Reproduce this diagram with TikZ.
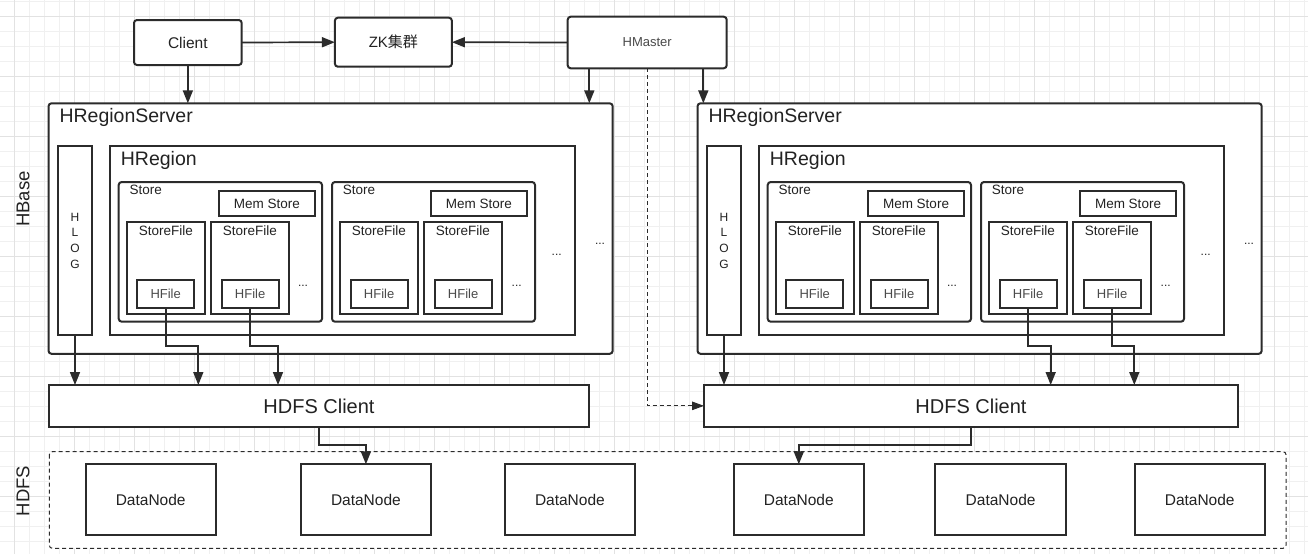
\documentclass[tikz,border=0pt]{standalone}
\usepackage{fontspec}
\setmainfont{Liberation Sans}
\newfontfamily\cjk{Noto Sans CJK SC}
\usepackage{tikz}
\usetikzlibrary{arrows.meta}

\definecolor{linec}{HTML}{2B2B2B}
\definecolor{textc}{HTML}{222222}
\definecolor{softc}{HTML}{4A4A4A}
\definecolor{gridmin}{HTML}{F0F0F0}
\definecolor{gridmaj}{HTML}{E2E2E2}

\begin{document}
\begin{tikzpicture}[x=1pt,y=1pt,yscale=-1,xscale=1,
  box/.style={draw=linec,line width=2pt,fill=white,inner sep=0pt,outer sep=0pt,anchor=north west,text=textc},
  rbox/.style={box,rounded corners=3pt},
  arr/.style={draw=linec,line width=1.7pt,-{Triangle[length=13pt,width=10pt]}},
  dasharr/.style={draw=linec,line width=1pt,dash pattern=on 4pt off 3pt,-{Triangle[length=12pt,width=8.5pt]}},
  txt/.style={inner sep=0pt,text=textc},
  bigtxt/.style={txt,font=\fontsize{19.5}{22}\selectfont},
  midtxt/.style={txt,font=\fontsize{13.5}{16}\selectfont},
  dots/.style={txt,font=\fontsize{12}{12}\selectfont}]
\useasboundingbox (0,0) rectangle (1308,554);
\fill[white] (0,0) rectangle (1308,554);

%Background grid
\foreach \gx in {0,...,86} {\draw[gridmin,line width=1pt] ({14.5+15*\gx},0) -- ({14.5+15*\gx},554);}
\foreach \gy in {0,...,36} {\draw[gridmin,line width=1pt] (0,{1+15*\gy}) -- (1308,{1+15*\gy});}
\foreach \gx in {0,...,21} {\draw[gridmaj,line width=1pt] ({14.5+60*\gx},0) -- ({14.5+60*\gx},554);}
\foreach \gy in {0,...,8} {\draw[gridmaj,line width=1pt] (0,{16+60*\gy}) -- (1308,{16+60*\gy});}

% Text Node
\node[txt,rotate=90,font=\fontsize{18.5}{20}\selectfont] (hbase) at (23,199) {HBase};
% Text Node
\node[txt,rotate=90,font=\fontsize{18.5}{20}\selectfont] (hdfs) at (23,491) {HDFS};

%Shape: Rectangle (top row)
\node[rbox,minimum width=107.7pt,minimum height=45pt,font=\fontsize{15.5}{18}\selectfont] (client) at (134,20) {Client};
\node[rbox,minimum width=117pt,minimum height=49pt,font=\fontsize{15}{18}\selectfont] (zk) at (334.9,17.7) {ZK{\cjk 集群}};
\node[rbox,minimum width=159pt,minimum height=51.6pt,text=softc,font=\fontsize{13}{16}\selectfont] (hmaster) at (567.7,16.7) {HMaster};

%Shape: HRegionServer (left)
\node[rbox,minimum width=564.2pt,minimum height=250.5pt] (rs1) at (48.5,103.3) {};
\node[box,minimum width=34.6pt,minimum height=189pt,align=center,font=\fontsize{12}{15.7}\selectfont] (hlog1) at (57.7,146) {H\\L\\O\\G};
\node[box,minimum width=465.3pt,minimum height=189pt] (hr1) at (110,146) {};
\node[rbox,minimum width=203.3pt,minimum height=139.7pt] (st1a) at (118.7,182) {};
\node[rbox,minimum width=203pt,minimum height=139.7pt] (st1b) at (332,182) {};
\node[box,minimum width=96.6pt,minimum height=25.3pt,font=\fontsize{13.5}{16}\selectfont] (mem1a) at (218.7,190.7) {Mem Store};
\node[box,minimum width=96.6pt,minimum height=25.3pt,font=\fontsize{13.5}{16}\selectfont] (mem1b) at (430.7,190.7) {Mem Store};
\node[box,minimum width=78.4pt,minimum height=92.3pt] (sf1a1) at (126.7,221.7) {};
\node[box,minimum width=78.4pt,minimum height=92.3pt] (sf1a2) at (210.7,221.7) {};
\node[box,minimum width=78.4pt,minimum height=92.3pt] (sf1b1) at (339.7,221.7) {};
\node[box,minimum width=78.4pt,minimum height=92.3pt] (sf1b2) at (423.7,221.7) {};
\node[box,minimum width=56.8pt,minimum height=28.3pt,text=softc,font=\fontsize{13}{16}\selectfont] (hf1a1) at (137.3,280) {HFile};
\node[box,minimum width=56.8pt,minimum height=28.3pt,text=softc,font=\fontsize{13}{16}\selectfont] (hf1a2) at (221.7,280) {HFile};
\node[box,minimum width=56.8pt,minimum height=28.3pt,text=softc,font=\fontsize{13}{16}\selectfont] (hf1b1) at (350.7,280) {HFile};
\node[box,minimum width=56.8pt,minimum height=28.3pt,text=softc,font=\fontsize{13}{16}\selectfont] (hf1b2) at (434.7,280) {HFile};

% Text Node
\node[bigtxt,anchor=base west] at (59.3,122.3) {HRegionServer};
\node[bigtxt,anchor=base west] at (120.7,165) {HRegion};
\node[midtxt,anchor=base west] at (129.3,194.3) {Store};
\node[midtxt,anchor=base west] at (342.6,194.3) {Store};
\node[midtxt,anchor=base] at (165.9,235.3) {StoreFile};
\node[midtxt,anchor=base] at (249.9,235.3) {StoreFile};
\node[midtxt,anchor=base] at (378.9,235.3) {StoreFile};
\node[midtxt,anchor=base] at (462.9,235.3) {StoreFile};
\node[dots] at (303,286) {...};
\node[dots] at (516.7,286) {...};
\node[dots] at (556.7,255) {...};
\node[dots] at (600,244) {...};

%Shape: HRegionServer (right)
\node[rbox,minimum width=564.2pt,minimum height=250.5pt] (rs2) at (697.5,103.3) {};
\node[box,minimum width=34.6pt,minimum height=189pt,align=center,font=\fontsize{12}{15.7}\selectfont] (hlog2) at (706.7,146) {H\\L\\O\\G};
\node[box,minimum width=465.3pt,minimum height=189pt] (hr2) at (759,146) {};
\node[rbox,minimum width=203.3pt,minimum height=139.7pt] (st2a) at (767.7,182) {};
\node[rbox,minimum width=203pt,minimum height=139.7pt] (st2b) at (981,182) {};
\node[box,minimum width=96.6pt,minimum height=25.3pt,font=\fontsize{13.5}{16}\selectfont] (mem2a) at (867.7,190.7) {Mem Store};
\node[box,minimum width=96.6pt,minimum height=25.3pt,font=\fontsize{13.5}{16}\selectfont] (mem2b) at (1079.7,190.7) {Mem Store};
\node[box,minimum width=78.4pt,minimum height=92.3pt] (sf2a1) at (775.7,221.7) {};
\node[box,minimum width=78.4pt,minimum height=92.3pt] (sf2a2) at (859.7,221.7) {};
\node[box,minimum width=78.4pt,minimum height=92.3pt] (sf2b1) at (988.7,221.7) {};
\node[box,minimum width=78.4pt,minimum height=92.3pt] (sf2b2) at (1072.7,221.7) {};
\node[box,minimum width=56.8pt,minimum height=28.3pt,text=softc,font=\fontsize{13}{16}\selectfont] (hf2a1) at (786.3,280) {HFile};
\node[box,minimum width=56.8pt,minimum height=28.3pt,text=softc,font=\fontsize{13}{16}\selectfont] (hf2a2) at (870.7,280) {HFile};
\node[box,minimum width=56.8pt,minimum height=28.3pt,text=softc,font=\fontsize{13}{16}\selectfont] (hf2b1) at (999.7,280) {HFile};
\node[box,minimum width=56.8pt,minimum height=28.3pt,text=softc,font=\fontsize{13}{16}\selectfont] (hf2b2) at (1083.7,280) {HFile};

% Text Node
\node[bigtxt,anchor=base west] at (708.3,122.3) {HRegionServer};
\node[bigtxt,anchor=base west] at (769.7,165) {HRegion};
\node[midtxt,anchor=base west] at (778.3,194.3) {Store};
\node[midtxt,anchor=base west] at (991.6,194.3) {Store};
\node[midtxt,anchor=base] at (814.9,235.3) {StoreFile};
\node[midtxt,anchor=base] at (898.9,235.3) {StoreFile};
\node[midtxt,anchor=base] at (1027.9,235.3) {StoreFile};
\node[midtxt,anchor=base] at (1111.9,235.3) {StoreFile};
\node[dots] at (952,286) {...};
\node[dots] at (1165.7,286) {...};
\node[dots] at (1205.7,255) {...};
\node[dots] at (1249,244) {...};

%Shape: HDFS Client
\node[box,minimum width=540pt,minimum height=41.7pt,font=\fontsize{20}{22}\selectfont] (hdfs1) at (49,385) {HDFS Client};
\node[box,minimum width=534pt,minimum height=41.7pt,font=\fontsize{20}{22}\selectfont] (hdfs2) at (704,385) {HDFS Client};

%Shape: HDFS cluster (dashed)
\draw[draw=linec,line width=1pt,dash pattern=on 4pt off 3pt,fill=white,rounded corners=3pt] (49.3,451.7) rectangle (1286,548.3);
\node[box,minimum width=130.4pt,minimum height=70.7pt,font=\fontsize{15.5}{18}\selectfont] (dn1) at (85.5,464.3) {DataNode};
\node[box,minimum width=130.4pt,minimum height=70.7pt,font=\fontsize{15.5}{18}\selectfont] (dn2) at (300.7,464.3) {DataNode};
\node[box,minimum width=130.4pt,minimum height=70.7pt,font=\fontsize{15.5}{18}\selectfont] (dn3) at (504.7,464.3) {DataNode};
\node[box,minimum width=130.4pt,minimum height=70.7pt,font=\fontsize{15.5}{18}\selectfont] (dn4) at (733.6,464.3) {DataNode};
\node[box,minimum width=130.4pt,minimum height=70.7pt,font=\fontsize{15.5}{18}\selectfont] (dn5) at (935.4,464.3) {DataNode};
\node[box,minimum width=130.4pt,minimum height=70.7pt,font=\fontsize{15.5}{18}\selectfont] (dn6) at (1134.5,464.3) {DataNode};

%Connectors
\coordinate (hmL) at (589.3,68.3);
\coordinate (hmR) at (703.3,68.3);
\coordinate (in1a) at (198.3,385);
\coordinate (in1b) at (278,385);
\coordinate (in2a) at (1050.7,385);
\coordinate (in2b) at (1134.3,385);
\draw[arr] (client.east) -- (zk.west);
\draw[arr] (hmaster.west) -- (zk.east);
\draw[arr] (client.south) -- (client.south |- rs1.north);
\draw[arr] (hmL) -- (hmL |- rs1.north);
\draw[arr] (hmR) -- (hmR |- rs2.north);
\draw[dasharr] (hmaster.south) -- (hmaster.south |- hdfs2.west) -- (hdfs2.west);
\draw[arr] (hlog1.south) -- (hlog1.south |- hdfs1.north);
\draw[arr] (hf1a1.south) -- ++(0,37.4) -| (in1a);
\draw[arr] (hf1a2.south) -- ++(0,37.4) -| (in1b);
\draw[arr] (hlog2.south) -- (hlog2.south |- hdfs2.north);
\draw[arr] (hf2b1.south) -- ++(0,37.4) -| (in2a);
\draw[arr] (hf2b2.south) -- ++(0,37.4) -| (in2b);
\draw[arr] (hdfs1.south) -- ++(0,18.3) -| (dn2.north);
\draw[arr] (hdfs2.south) -- ++(0,18.3) -| (dn4.north);

\end{tikzpicture}
\end{document}
